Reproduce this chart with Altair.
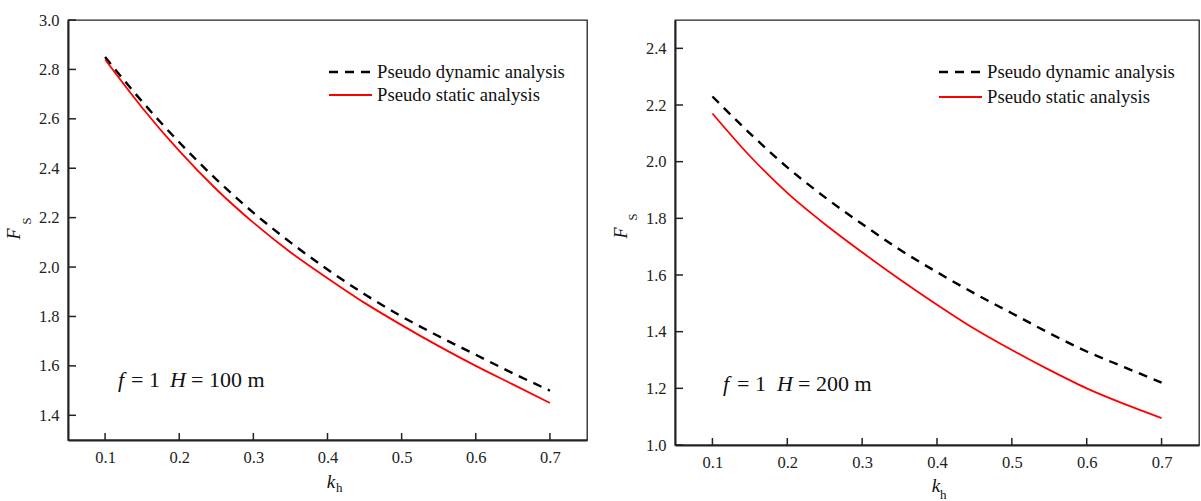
import altair as alt
import pandas as pd

FONT = "Liberation Serif, Times New Roman, Times, DejaVu Serif, serif"

# ---------------- data ----------------
kh = [0.10, 0.15, 0.20, 0.25, 0.30, 0.35, 0.40, 0.45, 0.50, 0.55, 0.60, 0.65, 0.70]
fs_dyn_100 = [2.85, 2.67, 2.505, 2.355, 2.22, 2.10, 1.99, 1.89, 1.80, 1.72, 1.645, 1.57, 1.50]
fs_sta_100 = [2.84, 2.645, 2.47, 2.315, 2.18, 2.06, 1.955, 1.855, 1.765, 1.68, 1.60, 1.525, 1.45]
fs_dyn_200 = [2.23, 2.10, 1.98, 1.875, 1.78, 1.69, 1.61, 1.535, 1.465, 1.395, 1.33, 1.275, 1.22]
fs_sta_200 = [2.17, 2.02, 1.89, 1.78, 1.68, 1.585, 1.495, 1.41, 1.335, 1.265, 1.20, 1.145, 1.095]

series_names = ["Pseudo dynamic analysis", "Pseudo static analysis"]
x_ticks = [0.1, 0.2, 0.3, 0.4, 0.5, 0.6, 0.7]
y_ticks_100 = [1.4, 1.6, 1.8, 2.0, 2.2, 2.4, 2.6, 2.8, 3.0]
y_ticks_200 = [1.0, 1.2, 1.4, 1.6, 1.8, 2.0, 2.2, 2.4]
y_domain_100 = [1.3, 3.0]
y_domain_200 = [1.0, 2.5]
x_domain = [0.05, 0.75]

annot_100 = [("f", True), ("= 1", False), ("H", True), ("= 100 m", False)]
annot_200 = [("f", True), ("= 1", False), ("H", True), ("= 200 m", False)]
y_title = ("F", "S")
x_title = ("k", "h")

DASH = [9, 7]


def txt(s, x, y, size, italic=False, align="left", baseline="alphabetic", angle=0, color="#111"):
    kw = dict(align=align, baseline=baseline, fontSize=size, font=FONT, color=color)
    if italic:
        kw["fontStyle"] = "italic"
    if angle:
        kw["angle"] = angle
    return alt.Chart(pd.DataFrame({"t": [s]})).mark_text(**kw).encode(
        x=alt.value(x), y=alt.value(y), text="t:N")


def panel(dyn, sta, y_domain, y_ticks, W, H, leg, ann, ann_x, ann_y, yt, xt):
    x_enc = alt.X("kh:Q", scale=alt.Scale(domain=x_domain, nice=False, zero=False),
                  axis=alt.Axis(values=x_ticks, format=".1f", title=None, grid=False,
                                ticks=False, labelPadding=9, domainColor="#222",
                                domainWidth=2, labelFont=FONT, labelFontSize=16.5,
                                labelColor="#222"))
    y_enc = alt.Y("Fs:Q", scale=alt.Scale(domain=y_domain, nice=False, zero=False),
                  axis=alt.Axis(values=y_ticks, format=".1f", title=None, grid=False,
                                ticks=False, labelPadding=9, domainColor="#222",
                                domainWidth=2, labelFont=FONT, labelFontSize=16.5,
                                labelColor="#222"))
    d_dyn = pd.DataFrame({"kh": kh, "Fs": dyn})
    d_sta = pd.DataFrame({"kh": kh, "Fs": sta})
    l_dyn = alt.Chart(d_dyn).mark_line(color="black", strokeWidth=2.4, strokeDash=DASH,
                                       interpolate="monotone").encode(x=x_enc, y=y_enc)
    l_sta = alt.Chart(d_sta).mark_line(color="#ff0000", strokeWidth=1.8,
                                       interpolate="monotone").encode(x=x_enc, y=y_enc)
    xtk = alt.Chart(pd.DataFrame({"kh": x_ticks})).mark_rule(color="#222", strokeWidth=1.5).encode(
        x=x_enc, y=alt.value(H), y2=alt.value(H - 7))
    ytk = alt.Chart(pd.DataFrame({"Fs": y_ticks})).mark_rule(color="#222", strokeWidth=1.5).encode(
        y=y_enc, x=alt.value(0), x2=alt.value(8))

    lx, ly1, ly2 = leg
    leg_dyn = alt.Chart(pd.DataFrame({"t": [series_names[0]]})).mark_rule(
        color="black", strokeWidth=2.4, strokeDash=DASH).encode(
        x=alt.value(lx), x2=alt.value(lx + 43), y=alt.value(ly1))
    leg_sta = alt.Chart(pd.DataFrame({"t": [series_names[1]]})).mark_rule(
        color="#ff0000", strokeWidth=1.8).encode(
        x=alt.value(lx), x2=alt.value(lx + 43), y=alt.value(ly2))
    leg_t1 = txt(series_names[0], lx + 48, ly1, 18.7, baseline="middle")
    leg_t2 = txt(series_names[1], lx + 48, ly2, 18.7, baseline="middle")

    ann_layers = [txt(s, x, ann_y, 22, italic=it) for (s, it), x in zip(ann, ann_x)]

    (fx, fy, sx, sy), (kx, ky, hx, hy) = yt, xt
    titles = [
        txt(y_title[0], fx, fy, 18, italic=True, align="center", angle=270),
        txt(y_title[1], sx, sy, 12.5, align="center", angle=270),
        txt(x_title[0], kx, ky, 19, italic=True, align="center"),
        txt(x_title[1], hx, hy, 13, align="left"),
    ]
    return alt.layer(l_dyn, l_sta, xtk, ytk, leg_dyn, leg_sta, leg_t1, leg_t2,
                     *ann_layers, *titles).properties(width=W, height=H)


left = panel(fs_dyn_100, fs_sta_100, y_domain_100, y_ticks_100, 519, 420,
             (261, 52, 75), annot_100, [50, 63, 102, 123], 367,
             (-48, 214, -37, 201), (263, 468, 268, 472))
right = panel(fs_dyn_200, fs_sta_200, y_domain_200, y_ticks_200, 524, 425,
              (264, 52, 77), annot_200, [48, 62, 102, 123], 371,
              (-48, 213, -38, 197), (261, 472, 265, 479))

chart = alt.hconcat(left, right, spacing=88, bounds="flush").properties(
    padding={"left": 5, "top": 11, "right": 0, "bottom": 0}
).configure(font=FONT).configure_view(stroke="#222", strokeWidth=1.3)

chart.save("out.html", embed_options={"renderer": "svg", "actions": False})
